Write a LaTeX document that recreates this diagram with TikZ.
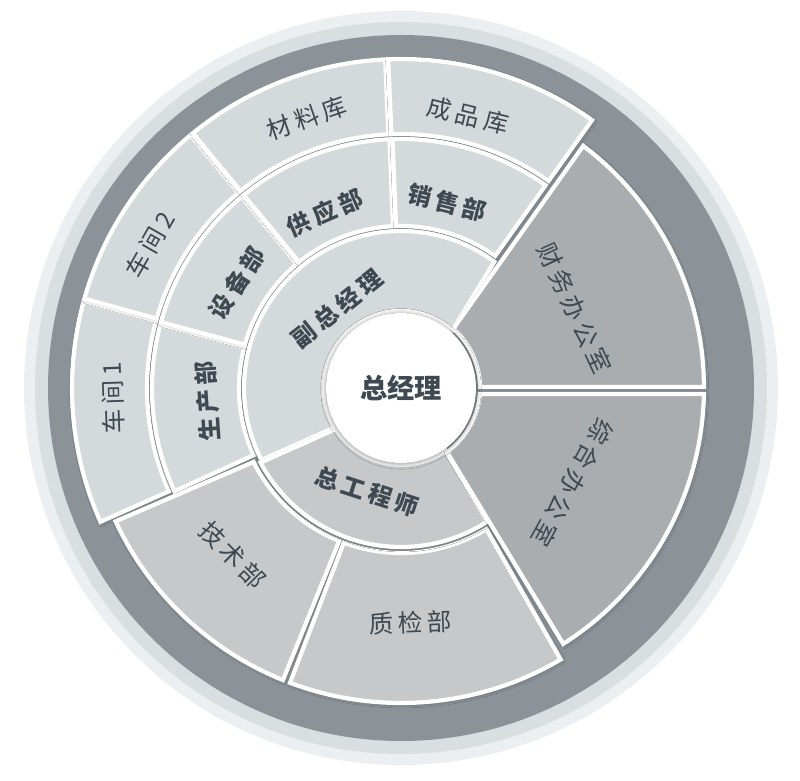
\documentclass[tikz,border=0pt]{standalone}
\usepackage{fontspec}
\newfontfamily\cjk[LetterSpace=18]{Noto Sans CJK SC}
\newfontfamily\cjkhub{Noto Sans CJK SC}
\usetikzlibrary{shadows.blur}
\definecolor{rimLight}{HTML}{ECEFF1}
\definecolor{rimShade}{HTML}{D9DEE1}
\definecolor{ringDark}{HTML}{8B9399}
\definecolor{panelLight}{HTML}{D4D9DC}
\definecolor{panelMid}{HTML}{C7C8CA}
\definecolor{panelDark}{HTML}{A9ADB0}
\definecolor{labelInk}{HTML}{3E4951}

% annular panel: [style]{inner r}{outer r}{start angle}{end angle}{start gap}{end gap}
\newcommand{\orgpanel}[7][]{%
  \pgfmathsetmacro\segOA{#4+asin(#6/#3)}%
  \pgfmathsetmacro\segOB{#5-asin(#7/#3)}%
  \pgfmathsetmacro\segIB{#5-asin(#7/#2)}%
  \pgfmathsetmacro\segIA{#4+asin(#6/#2)}%
  \draw[#1] (\segOA:#3) arc[start angle=\segOA, end angle=\segOB, radius=#3]
    -- (\segIB:#2) arc[start angle=\segIB, end angle=\segIA, radius=#2] -- cycle;
}

\begin{document}
\begin{tikzpicture}[
    % 1 unit = 1px of the 800x780 layout
    scale=0.02,
    % --- Panel Styles ---
    slab/.style={
        draw=white,
        line width=2.4pt,
        blur shadow={shadow xshift=0.6pt, shadow yshift=-0.8pt, shadow blur radius=2pt, shadow opacity=40}
    },
    lightSlab/.style={slab, fill=panelLight},
    midSlab/.style={slab, fill=panelMid},
    darkSlab/.style={slab, fill=panelDark},
    % --- Label Styles ---
    hub/.style={
        circle,
        fill=white,
        minimum size=3cm,
        text=labelInk,
        font=\cjkhub\bfseries\fontsize{15.5}{15.5}\selectfont,
        blur shadow={shadow xshift=0pt, shadow yshift=-0.5pt, shadow blur radius=3pt, shadow opacity=45}
    },
    deptName/.style={font=\cjk\fontsize{14}{14}\selectfont, text=labelInk, inner sep=0pt},
    unitName/.style={font=\cjk\bfseries\fontsize{13.5}{13.5}\selectfont, text=labelInk, inner sep=0pt}
]
    \useasboundingbox (-401,-392) rectangle (399,388);

    % --- Rim and Dark Ring ---
    \fill[rimLight] (0,0) circle[radius=377];
    \fill[rimShade] (0,0) circle[radius=366];
    \fill[ringDark] (0,0) circle[radius=353];

    % --- Outer Ring (workshops, stores) ---
    \orgpanel[lightSlab]{254}{329}{164.5}{204}{1.5}{0}
    \orgpanel[lightSlab]{254}{329}{129.5}{164.5}{1.5}{1.5}
    \orgpanel[lightSlab]{254}{329}{92.5}{129.5}{1.5}{1.5}
    \orgpanel[lightSlab]{254}{329}{54.5}{92.5}{0}{1.5}

    % --- Middle Ring (departments) ---
    \orgpanel[lightSlab]{162}{249}{165}{204.5}{1.5}{0}
    \orgpanel[lightSlab]{162}{249}{129.5}{165}{1.5}{1.5}
    \orgpanel[lightSlab]{162}{249}{92.3}{129.5}{1.5}{1.5}
    \orgpanel[lightSlab]{162}{249}{54.5}{92.3}{0}{1.5}

    % --- Lower Ring ---
    \orgpanel[midSlab]{165}{315}{203.3}{248}{9.6}{0}
    \orgpanel[midSlab]{165}{315}{249}{299.7}{2}{-4.2}

    % --- Inner Ring ---
    \orgpanel[lightSlab]{77}{157}{58.5}{204}{-13.6}{-9}
    \orgpanel[midSlab]{77}{159}{204}{300.1}{11}{-7.3}

    % --- Right Wedges ---
    \orgpanel[darkSlab]{79}{303}{0}{54.6}{1}{8.3}
    \orgpanel[darkSlab]{79}{303}{-58.8}{0}{6.2}{6}

    % --- Centre ---
    \node (gm) [hub] at (0,0) {总经理};

    % --- Labels ---
    \node (vgm) [unitName, rotate=38.7] at (128.7:102) {副总经理};
    \node (chiefeng) [unitName, rotate=-18.1] at (251.9:109) {总工程师};
    \node (finance) [deptName, rotate=-65.3] at (24.7:191) {财务办公室};
    \node (admin) [deptName, rotate=-118.9] at (-28.9:196) {综合办公室};
    \node (qc) [deptName, rotate=2.2] at (-87.8:235) {质检部};
    \node (tech) [deptName, rotate=-45.2] at (224.8:237) {技术部};
    \node (prod) [unitName, rotate=94] at (184:194) {生产部};
    \node (ws1) [deptName, rotate=92] at (182:288) {车间1};
    \node (equip) [unitName, rotate=57.4] at (147.4:195) {设备部};
    \node (ws2) [deptName, rotate=60.3] at (150.3:289) {车间2};
    \node (supply) [unitName, rotate=23.5] at (113.5:191) {供应部};
    \node (matstore) [deptName, rotate=19.2] at (109.2:286) {材料库};
    \node (sales) [unitName, rotate=-14] at (76:191) {销售部};
    \node (goodsstore) [deptName, rotate=-13.8] at (76.2:281) {成品库};

\end{tikzpicture}
\end{document}
